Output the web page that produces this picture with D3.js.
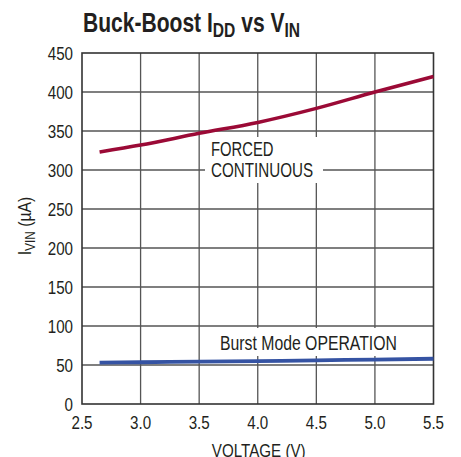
<!DOCTYPE html>
<html><head><meta charset="utf-8">
<script src="https://cdn.jsdelivr.net/npm/d3@7"></script>
<style>
body{margin:0;background:#fff;}
svg text{font-family:"Liberation Sans",Arial,sans-serif;fill:#231f20;}
</style></head><body>
<svg id="c" width="461" height="457"></svg>
<script>
const xTicks = [2.5, 3.0, 3.5, 4.0, 4.5, 5.0, 5.5];
const yTicks = [0, 50, 100, 150, 200, 250, 300, 350, 400, 450];
const voltage = [2.65, 3.0, 3.5, 4.0, 4.5, 5.0, 5.5];
const forcedContinuous = [323, 332, 347, 361, 379, 400, 420];
const burstMode = [53, 53.5, 54.3, 55, 56, 57, 58];

const svg = d3.select("#c");
const L = 82, R = 433.5, T = 53, B = 404;
const SX = 0.82;
const x = d3.scaleLinear().domain([2.5, 5.5]).range([L, R]);
const y = d3.scaleLinear().domain([0, 450]).range([B, T]);

function ctext(parent, px, py, str, size, anchor, sx) {
  const gg = parent.append("g").attr("transform", `translate(${px},${py}) scale(${sx || SX},1)`);
  return gg.append("text").attr("text-anchor", anchor || "start")
    .style("font-size", size + "px").text(str);
}

// title
const tg = svg.append("g").attr("transform", "translate(83,32) scale(0.78,1)");
const title = tg.append("text").style("font-weight", "bold").style("font-size", "27px");
title.append("tspan").text("Buck-Boost I");
title.append("tspan").text("DD").attr("dy", 5).style("font-size", "20px");
title.append("tspan").text(" vs V").attr("dy", -5);
title.append("tspan").text("IN").attr("dy", 5).style("font-size", "20px");

// grid
const g = svg.append("g");
g.selectAll(".gx").data(xTicks.slice(1, -1)).enter().append("line")
  .attr("x1", d => x(d)).attr("x2", d => x(d)).attr("y1", T).attr("y2", B)
  .attr("stroke", "#555").attr("stroke-width", 1.3);
g.selectAll(".gy").data(yTicks.slice(1, -1)).enter().append("line")
  .attr("y1", d => y(d)).attr("y2", d => y(d)).attr("x1", L).attr("x2", R)
  .attr("stroke", "#555").attr("stroke-width", 1.3);

// label background boxes
svg.append("rect").attr("x", 205).attr("y", 137).attr("width", 118).attr("height", 46).attr("fill", "#fff");
svg.append("rect").attr("x", 214).attr("y", 328).attr("width", 192).attr("height", 28).attr("fill", "#fff");

// frame
svg.append("rect").attr("x", L).attr("y", T).attr("width", R - L).attr("height", B - T)
  .attr("fill", "none").attr("stroke", "#333").attr("stroke-width", 1.6);

// lines
const line = d3.line().x((d, i) => x(voltage[i])).y(d => y(d)).curve(d3.curveMonotoneX);
svg.append("path").datum(forcedContinuous).attr("d", line)
  .attr("fill", "none").attr("stroke", "#9b0a36").attr("stroke-width", 3.6);
svg.append("path").datum(burstMode).attr("d", line)
  .attr("fill", "none").attr("stroke", "#3553a3").attr("stroke-width", 3.8);

// labels
ctext(svg, 211, 156, "FORCED", 19.5, "start", 0.76);
ctext(svg, 211, 177, "CONTINUOUS", 19.5, "start", 0.78);
ctext(svg, 220, 350, "Burst Mode OPERATION", 19.5, "start", 0.81);

// tick labels
yTicks.forEach(d => ctext(svg, 73, y(d) + 6.5, String(d), 18.5, "end"));
xTicks.forEach(d => ctext(svg, x(d), 429, d3.format(".1f")(d), 18.5, "middle"));

// axis titles
ctext(svg, 258.7, 457, "VOLTAGE (V)", 18.5, "middle");
const yg = svg.append("g").attr("transform", "translate(31,226) rotate(-90) scale(0.85,1)");
const yt = yg.append("text").attr("text-anchor", "middle").style("font-size", "18.5px");
yt.append("tspan").text("I");
yt.append("tspan").text("VIN").attr("dy", 4).style("font-size", "14px");
yt.append("tspan").text(" (µA)").attr("dy", -4);
</script></body></html>
